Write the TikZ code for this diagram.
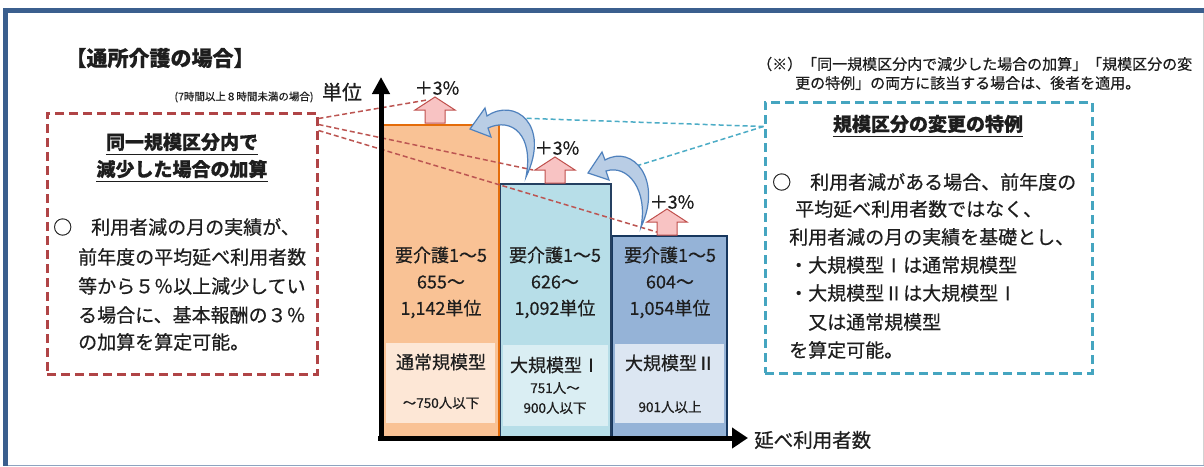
\documentclass[tikz,border=0pt]{standalone}
\usepackage{fontspec}
\setmainfont{Noto Sans CJK JP}[FakeBold=0.5]
\usetikzlibrary{arrows.meta}
\definecolor{frameblue}{HTML}{3B5F8E}
\definecolor{framelight}{HTML}{8EA3BF}
\definecolor{txtc}{HTML}{1E1E1E}
\definecolor{barA}{HTML}{F9C295}
\definecolor{barAedge}{HTML}{E46C0A}
\definecolor{panelA}{HTML}{FDE7D6}
\definecolor{barB}{HTML}{B7DEE8}
\definecolor{barBedge}{HTML}{254061}
\definecolor{panelB}{HTML}{DAEEF3}
\definecolor{barC}{HTML}{95B3D7}
\definecolor{barCedge}{HTML}{17375E}
\definecolor{panelC}{HTML}{DCE6F2}
\definecolor{redbox}{HTML}{B04446}
\definecolor{redln}{HTML}{BC5552}
\definecolor{bluebox}{HTML}{45A5C0}
\definecolor{blueln}{HTML}{4BACC6}
\definecolor{pinkfill}{HTML}{F8C3C3}
\definecolor{pinkedge}{HTML}{C0504D}
\definecolor{curvefill}{HTML}{B9CDE5}
\definecolor{curveedge}{HTML}{4F81BD}
\tikzset{
  every node/.style={inner sep=0pt, text=txtc},
  fbody/.style={font=\fontsize{19}{23}\selectfont},
  fbar/.style={font=\fontsize{18}{22}\selectfont},
  fsmall/.style={font=\fontsize{13.5}{16}\selectfont},
  fnote/.style={font=\fontsize{15}{17}\selectfont},
  fhead/.style={font=\bfseries\fontsize{19}{23}\selectfont},
  fplus/.style={font=\fontsize{18}{21}\selectfont},
  lw/.style={anchor=west},
  dredbox/.style={draw=redbox, line width=3pt, dash pattern=on 9pt off 5pt},
  dbluebox/.style={draw=bluebox, line width=3pt, dash pattern=on 9pt off 5pt},
  redconn/.style={draw=redln, line width=1.5pt, dash pattern=on 5pt off 3pt},
  blueconn/.style={draw=blueln, line width=1.5pt, dash pattern=on 5pt off 3pt},
  uparrow/.style={fill=pinkfill, draw=pinkedge, line width=1pt},
  curvearrow/.style={fill=curvefill, draw=curveedge, line width=1.2pt},
  axisline/.style={line width=5pt, black},
  uline/.style={line width=1.6pt, txtc},
}
\begin{document}
\begin{tikzpicture}[x=1pt,y=-1pt]
\useasboundingbox (0,0) rectangle (1204,466);
\fill[white] (0,0) rectangle (1204,466);
% frame
\fill[frameblue] (3,8) rectangle (1204,13);
\fill[frameblue] (3,8) rectangle (8,466);
\draw[framelight, line width=1.2pt] (8,465.4) -- (1204,465.4);
\draw[gray!35, line width=1pt] (1203.5,13) -- (1203.5,465);

% titles
\node[font=\bfseries\fontsize{21}{25}\selectfont] (title) at (160,58) {【通所介護の場合】};
\node[font=\fontsize{10.5}{12}\selectfont] (cond) at (244,97) {(7時間以上８時間未満の場合)};
\node[font=\fontsize{20}{24}\selectfont] (yunit) at (342,92) {単位};
\node[font=\fontsize{19.5}{23}\selectfont, lw] (xunit) at (754,440) {延べ利用者数};
\node[fnote, lw] (note1) at (757,64) {（※）「同一規模区分内で減少した場合の加算」「規模区分の変};
\node[fnote, lw] (note2) at (795,83) {更の特例」の両方に該当する場合は、後者を適用。};

% bars
\filldraw[fill=barC, draw=barCedge, line width=2pt] (612,437) rectangle (727,236);
\fill[panelC] (615,344) rectangle (724,423);
\filldraw[fill=barB, draw=barBedge, line width=2pt] (500,437) rectangle (611,184);
\fill[panelB] (503,345) rectangle (608,426);
\filldraw[fill=barA, draw=barAedge, line width=2pt] (382,437) rectangle (499,125);
\fill[panelA] (386,343) rectangle (495,423);

% bar texts
\node[fbar] (a1) at (441,255) {要介護1～5};
\node[fbar] (a2) at (441,282) {655～};
\node[fbar] (a3) at (441,309) {1,142単位};
\node[fbar] (b1) at (555,255) {要介護1～5};
\node[fbar] (b2) at (555,282) {626～};
\node[fbar] (b3) at (555,309) {1,092単位};
\node[fbar] (c1) at (670,255) {要介護1～5};
\node[fbar] (c2) at (670,282) {604～};
\node[fbar] (c3) at (670,309) {1,054単位};
\node[fbar] (pa1) at (441,362) {通常規模型};
\node[fsmall] (pa2) at (441,403) {～750人以下};
\node[fbar] (pb1) at (555,365) {大規模型Ⅰ};
\node[fsmall] (pb2) at (555,388) {751人～};
\node[fsmall] (pb3) at (555,408) {900人以下};
\node[fbar] (pc1) at (670,363) {大規模型Ⅱ};
\node[fsmall] (pc2) at (670,407) {901人以上};

% dashed boxes
\node[dredbox, minimum width=270pt, minimum height=261pt] (rbox) at (182,243.5) {};
\node[dbluebox, minimum width=327pt, minimum height=271pt] (bbox) at (928.5,237.5) {};

% red box texts
\node[fhead] (rt1) at (182,142) {同一規模区分内で};
\node[fhead] (rt2) at (182,169) {減少した場合の加算};
\draw[uline] ([yshift=-3pt]rt1.south west) -- ([yshift=-3pt]rt1.south east);
\draw[uline] ([yshift=-3pt]rt2.south west) -- ([yshift=-3pt]rt2.south east);
\node[fbody, lw] (r1) at (53,227) {○　利用者減の月の実績が、};
\node[fbody, lw] (r2) at (78,257) {前年度の平均延べ利用者数};
\node[fbody, lw] (r3) at (78,286) {等から５％以上減少してい};
\node[fbody, lw] (r4) at (78,315) {る場合に、基本報酬の３％};
\node[fbody, lw] (r5) at (78,342) {の加算を算定可能。};

% blue box texts
\node[fhead] (bt1) at (928,124) {規模区分の変更の特例};
\draw[uline] ([yshift=-3pt]bt1.south west) -- ([yshift=-3pt]bt1.south east);
\node[fbody, lw] (s1) at (772,182) {○　利用者減がある場合、前年度の};
\node[fbody, lw] (s2) at (795,209) {平均延べ利用者数ではなく、};
\node[fbody, lw] (s3) at (789,237) {利用者減の月の実績を基礎とし、};
\node[fbody, lw] (s4) at (789,265) {・大規模型Ⅰは通常規模型};
\node[fbody, lw] (s5) at (789,293) {・大規模型Ⅱは大規模型Ⅰ};
\node[fbody, lw] (s6) at (808,322) {又は通常規模型};
\node[fbody, lw] (s7) at (789,350) {を算定可能。};

% connector end points
\coordinate (up1) at (427,100);
\coordinate (up2) at (533,170);
\coordinate (up3) at (660,233);
\coordinate (cv1) at (517,118);
\coordinate (cv2) at (633,167);

% dashed connectors
\draw[redconn] ([yshift=-7pt]rbox.north east) -- (up1);
\draw[redconn] ([yshift=-13pt]rbox.north east) -- (up2);
\draw[redconn] ([yshift=-19pt]rbox.north east) -- (up3);
\draw[blueconn] ([yshift=-26pt]bbox.north west) -- (cv1);
\draw[blueconn] ([yshift=-26pt]bbox.north west) -- (cv2);

% +3% arrows
\draw[uparrow, shift={(435,123)}] (0,-26) -- (20,-13) -- (10,-13) -- (10,0) -- (-10,0) -- (-10,-13) -- (-20,-13) -- cycle;
\draw[uparrow, shift={(555,183)}] (0,-26) -- (20,-13) -- (10,-13) -- (10,0) -- (-10,0) -- (-10,-13) -- (-20,-13) -- cycle;
\draw[uparrow, shift={(667,235)}] (0,-26) -- (20,-13) -- (10,-13) -- (10,0) -- (-10,0) -- (-10,-13) -- (-20,-13) -- cycle;
\node[fplus] (p1) at (437,88) {＋3\%};
\node[fplus] (p2) at (557,148) {＋3\%};
\node[fplus] (p3) at (672,202) {＋3\%};

% curved arrows
\draw[curvearrow] (470,129) -- (485,108) -- (487,116) .. controls (515,97) and (551,125) .. (526,177) .. controls (534,135) and (512,117) .. (488,128) -- (491,137) -- cycle;
\draw[curvearrow] (588,173) -- (602,152) -- (605,160) .. controls (633,144) and (663,180) .. (641,227) .. controls (648,190) and (628,164) .. (606,171) -- (609,180) -- cycle;

% axes
\coordinate (origin) at (381,438);
\coordinate (ytop) at (381,77);
\coordinate (xend) at (748,438);
\draw[axisline, -{Triangle[width=17pt,length=17pt]}] (381,441) -- (ytop);
\draw[axisline, -{Triangle[width=20pt,length=16pt]}] (378,438) -- (xend);
\end{tikzpicture}
\end{document}
